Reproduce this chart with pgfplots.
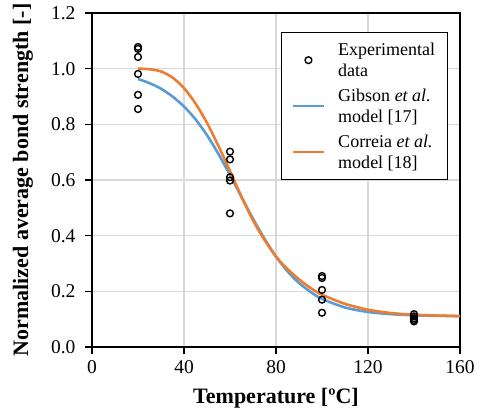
\documentclass[border=0pt]{standalone}
\usepackage{pgfplots}
\pgfplotsset{compat=1.18}
\usepackage{fontspec}
\setmainfont{Liberation Serif}
\definecolor{gblue}{HTML}{5B9BD5}
\definecolor{corange}{HTML}{ED7D31}
\definecolor{gridgray}{HTML}{D9D9D9}
\pgfplotsset{
  lineleg/.style={legend image code/.code={\draw[##1] (0pt,0pt) -- (31pt,0pt);}},
  markleg/.style={legend image code/.code={\draw[mark repeat=2,mark phase=2,##1] plot coordinates {(0pt,0pt) (15.5pt,0pt) (31pt,0pt)};}},
}
\begin{document}
\begin{tikzpicture}
\begin{axis}[
  scale only axis, width=368pt, height=334pt,
  xmin=0, xmax=160, ymin=0, ymax=1.2,
  xtick={0,40,80,120,160}, ytick={0,0.2,0.4,0.6,0.8,1.0,1.2},
  xticklabel={\pgfmathprintnumber[assume math mode=true]{\tick}},
  yticklabel={\pgfmathprintnumber[assume math mode=true,fixed,fixed zerofill,precision=1]{\tick}},
  tick label style={font=\rmfamily\fontsize{19.5}{21}\selectfont},
  xticklabel style={yshift=-3pt},
  yticklabel style={xshift=-6pt},
  xtick pos=left, ytick pos=left,
  grid=major, major grid style={draw=gridgray, line width=1.2pt},
  axis line style={line width=1.3pt},
  tick style={black, line width=1.3pt},
  tick align=outside, major tick length=7pt,
  xlabel={\textbf{Temperature [ºC]}},
  ylabel={\textbf{Normalized average bond strength [-]}},
  label style={font=\fontsize{22}{24}\selectfont},
  xlabel style={at={(axis description cs:0.5,-0.153)}, anchor=center},
  ylabel style={at={(axis description cs:-0.188,0.5)}, anchor=center},
  legend style={at={(0.967,0.943)}, anchor=north east, draw=black, line width=1.3pt,
    font=\fontsize{18}{21}\selectfont, cells={align=left},
    inner xsep=10pt, inner ysep=8pt, row sep=7pt,
    /tikz/every odd column/.append style={column sep=11pt}},
  legend cell align=left,
]
\addplot[only marks, mark=o, mark size=3.4pt, mark options={line width=1.4pt, black}, markleg]
coordinates {
 (20,1.078) (20,1.071) (20,1.042) (20,0.981) (20,0.906) (20,0.855)
 (60,0.702) (60,0.674) (60,0.610) (60,0.598) (60,0.480)
 (100,0.255) (100,0.248) (100,0.205) (100,0.170) (100,0.123)
 (140,0.118) (140,0.110) (140,0.103) (140,0.097) (140,0.092)
};
\addlegendentry{Experimental\\ data}
\addplot[gblue, line width=2.6pt, smooth, no marks, lineleg]
coordinates {
 (20,0.963) (25,0.948) (30,0.928) (35,0.900) (40,0.864) (45,0.818) (50,0.761)
 (55,0.693) (60,0.618) (65,0.539) (70,0.461) (75,0.389) (80,0.325) (85,0.272)
 (90,0.230) (95,0.198) (100,0.173) (110,0.142) (120,0.126) (130,0.118)
 (140,0.114) (150,0.112) (160,0.111)
};
\addlegendentry{Gibson \textit{et al.}\\model [17]}
\addplot[corange, line width=2.6pt, smooth, no marks, lineleg]
coordinates {
 (20,1.000) (25,0.998) (30,0.990) (35,0.968) (40,0.930) (45,0.875) (50,0.805)
 (55,0.722) (60,0.632) (65,0.540) (70,0.455) (75,0.385) (80,0.325) (85,0.280)
 (90,0.243) (95,0.212) (100,0.188) (110,0.155) (120,0.134) (130,0.122)
 (140,0.116) (150,0.113) (160,0.111)
};
\addlegendentry{Correia \textit{et al.}\\model [18]}
\end{axis}
\path ([xshift=-92pt,yshift=-65pt]current axis.south west) rectangle ([xshift=21pt,yshift=13pt]current axis.north east);
\end{tikzpicture}
\end{document}
